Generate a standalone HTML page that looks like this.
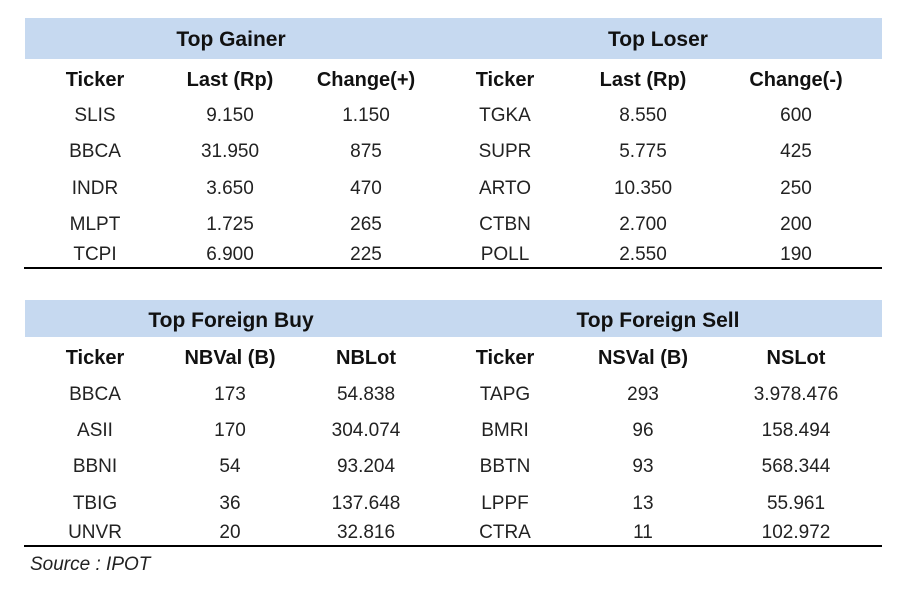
<!DOCTYPE html>
<html><head><meta charset="utf-8"><style>
html,body{margin:0;padding:0;background:#fff;}
svg{display:block;font-family:"Liberation Sans",sans-serif;}
.t{font-weight:bold;font-size:21px;fill:#111;}
.h{font-weight:bold;font-size:20px;fill:#111;}
.d{font-size:19px;fill:#222;}
</style></head><body>
<svg width="900" height="597" viewBox="0 0 900 597">
<rect x="25" y="18" width="857" height="41" fill="#c6d9f0"/>
<rect x="25" y="300" width="857" height="37" fill="#c6d9f0"/>
<line x1="24" y1="268" x2="882" y2="268" stroke="#000" stroke-width="2"/>
<line x1="24" y1="546" x2="882" y2="546" stroke="#000" stroke-width="2"/>
<g id="content" text-anchor="middle"></g>
<text x="30" y="570" font-size="19" font-style="italic" fill="#222">Source : IPOT</text>
</svg>
<script>
const topTitles=["Top Gainer","Top Loser"];
const topHeaders=["Ticker","Last (Rp)","Change(+)","Ticker","Last (Rp)","Change(-)"];
const gainers=[["SLIS","9.150","1.150"],["BBCA","31.950","875"],["INDR","3.650","470"],["MLPT","1.725","265"],["TCPI","6.900","225"]];
const losers=[["TGKA","8.550","600"],["SUPR","5.775","425"],["ARTO","10.350","250"],["CTBN","2.700","200"],["POLL","2.550","190"]];
const botTitles=["Top Foreign Buy","Top Foreign Sell"];
const botHeaders=["Ticker","NBVal (B)","NBLot","Ticker","NSVal (B)","NSLot"];
const fbuy=[["BBCA","173","54.838"],["ASII","170","304.074"],["BBNI","54","93.204"],["TBIG","36","137.648"],["UNVR","20","32.816"]];
const fsell=[["TAPG","293","3.978.476"],["BMRI","96","158.494"],["BBTN","93","568.344"],["LPPF","13","55.961"],["CTRA","11","102.972"]];
const colX=[95,230,366,505,643,796];
const titleX=[231,658];
const g=document.getElementById('content');
const NS="http://www.w3.org/2000/svg";
function txt(x,y,cls,s,name){const e=document.createElementNS(NS,'text');e.setAttribute('x',x);e.setAttribute('y',y);e.setAttribute('class',cls);e.textContent=s;


g.appendChild(e);}
function section(titles,headers,left,right,ty,hy,rowsY,prefix){
 titles.forEach((t,i)=>txt(titleX[i],ty,'t',t,prefix+'-title-'+(i+1)));
 headers.forEach((h,i)=>txt(colX[i],hy,'h',h,prefix+'-col-header-'+(i+1)));
 left.forEach((r,ri)=>r.forEach((v,ci)=>txt(colX[ci],rowsY[ri],'d',v,prefix+'-left-cell')));
 right.forEach((r,ri)=>r.forEach((v,ci)=>txt(colX[ci+3],rowsY[ri],'d',v,prefix+'-right-cell')));
}
section(topTitles,topHeaders,gainers,losers,46,86,[121,157,194,230,260],'top');
section(botTitles,botHeaders,fbuy,fsell,327,364,[400,436,472,509,538],'foreign');
</script>
</body></html>
